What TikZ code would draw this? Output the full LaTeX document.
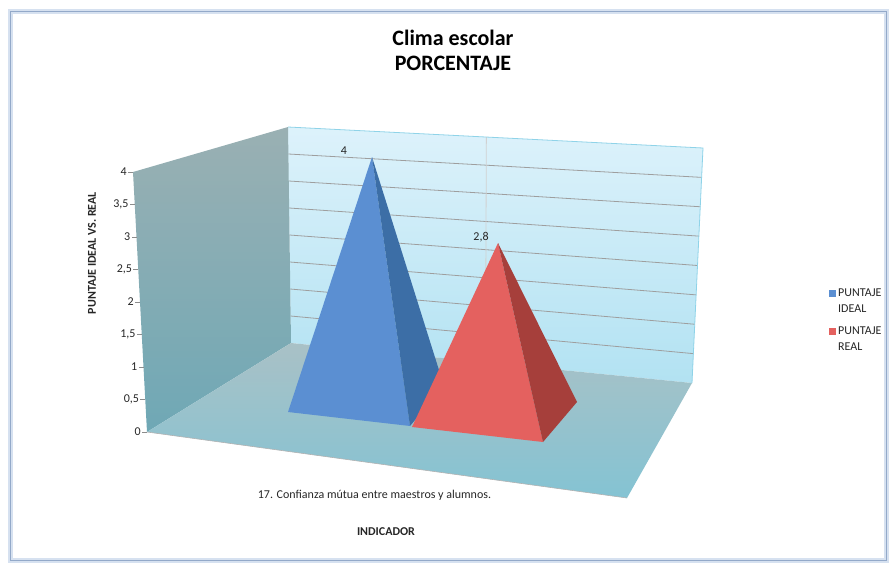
\documentclass[tikz,border=0pt]{standalone}
\usepackage{fontspec}
\setmainfont{Carlito}
\usetikzlibrary{calc}

\definecolor{frameglow}{HTML}{D6E1F0}
\definecolor{frameline}{HTML}{93A9C9}
\definecolor{backtop}{HTML}{DDF2FB}
\definecolor{backbot}{HTML}{B2E2F2}
\definecolor{backedge}{HTML}{8FD3E8}
\definecolor{sidetop}{HTML}{9AB0B3}
\definecolor{sidebot}{HTML}{6FA8B5}
\definecolor{floorback}{HTML}{A9C1C6}
\definecolor{floorfront}{HTML}{84C3D3}
\definecolor{ideal}{HTML}{5B8FD2}
\definecolor{idealdark}{HTML}{3C6EA6}
\definecolor{real}{HTML}{E4615F}
\definecolor{realdark}{HTML}{A63F3B}

\begin{document}
\begin{tikzpicture}[x=1pt, y=-1pt,
  lbl/.style={font=\fontsize{12}{16}\selectfont, text=black!85, inner sep=1pt},
  ttl/.style={font=\fontsize{12}{16}\selectfont\bfseries, text=black!85, inner sep=1pt},
  grid/.style={draw=black!38, line width=0.8pt},
  tick/.style={draw=black!45, line width=0.6pt}]
  \useasboundingbox (0,0) rectangle (891,562);

  % frame
  \draw[frameglow, line width=5pt] (10,11) rectangle (886,560);
  \draw[frameline, line width=1pt] (10,11) rectangle (886,560);

  % title
  \node[font=\fontsize{22}{25}\selectfont\bfseries, anchor=base] (title) at (453,45) {Clima escolar};
  \node[font=\fontsize{22}{25}\selectfont\bfseries, anchor=base] (subtitle) at (453,70) {PORCENTAJE};

  % corners of the box
  \coordinate (TL) at (288,127);
  \coordinate (TR) at (703,148);
  \coordinate (BR) at (692,383);
  \coordinate (BL) at (291,343);
  \coordinate (FT) at (133,172);
  \coordinate (FB) at (147,432);
  \coordinate (FR) at (627,498);

  % back wall
  \shade[top color=backtop, bottom color=backbot] (TL) -- (TR) -- (BR) -- (BL) -- cycle;
  \foreach \k in {1,...,7}
    \draw[grid] ($(BL)!\k/8!(TL)$) -- ($(BR)!\k/8!(TR)$);
  \draw[black!18, line width=0.8pt] ($(TL)!0.478!(TR)$) -- ($(BL)!0.485!(BR)$);
  \draw[backedge, line width=0.8pt] (TL) -- (TR) -- (BR);

  % side wall and floor
  \shade[top color=sidetop, bottom color=sidebot] (FT) -- (TL) -- (BL) -- (FB) -- cycle;
  \shade[top color=floorback, bottom color=floorfront] (FB) -- (BL) -- (BR) -- (FR) -- cycle;
  \draw[black!30, line width=0.6pt] (FB) -- (FR);

  % value axis
  \foreach \v/\t [count=\i] in {0/0, 0.5/{0,5}, 1/1, 1.5/{1,5}, 2/2, 2.5/{2,5}, 3/3, 3.5/{3,5}, 4/4}
    \draw[tick] ($(FB)!\v/4!(FT)$) -- ++(-5,0) node[lbl, left] (y\i) {\t};
  \node[ttl, rotate=90] (ytitle) at (92,253) {PUNTAJE IDEAL VS. REAL};

  % pyramid: ideal
  \coordinate (ia) at (372,157);
  \coordinate (il) at (288,412);
  \coordinate (ir) at (410,426);
  \coordinate (ib) at (444,386);
  \fill[ideal] (ia) -- (il) -- (ir) -- cycle;
  \fill[idealdark] (ia) -- (ir) -- (ib) -- cycle;

  % pyramid: real
  \coordinate (ra) at (498,243);
  \coordinate (rl) at (412,427);
  \coordinate (rr) at (543,442);
  \coordinate (rb) at (577,402);
  \fill[real] (ra) -- (rl) -- (rr) -- cycle;
  \fill[realdark] (ra) -- (rr) -- (rb) -- cycle;

  % data labels
  \node[lbl] (vi) at (344,151) {4};
  \node[lbl] (vr) at (481,237) {2,8};

  % legend
  \fill[ideal] (828.5,290) rectangle (835.5,297);
  \node[lbl, anchor=north west, align=left, inner sep=0pt] (li) at (838,288.5) {PUNTAJE\\IDEAL};
  \fill[real] (828.5,328) rectangle (835.5,335);
  \node[lbl, anchor=north west, align=left, inner sep=0pt] (lr) at (838,326.5) {PUNTAJE\\REAL};

  % category axis
  \node[lbl] (cat) at (374.5,495) {17. Confianza mútua entre maestros y alumnos.};
  \node[ttl] (xtitle) at (386,532) {INDICADOR};
\end{tikzpicture}
\end{document}
